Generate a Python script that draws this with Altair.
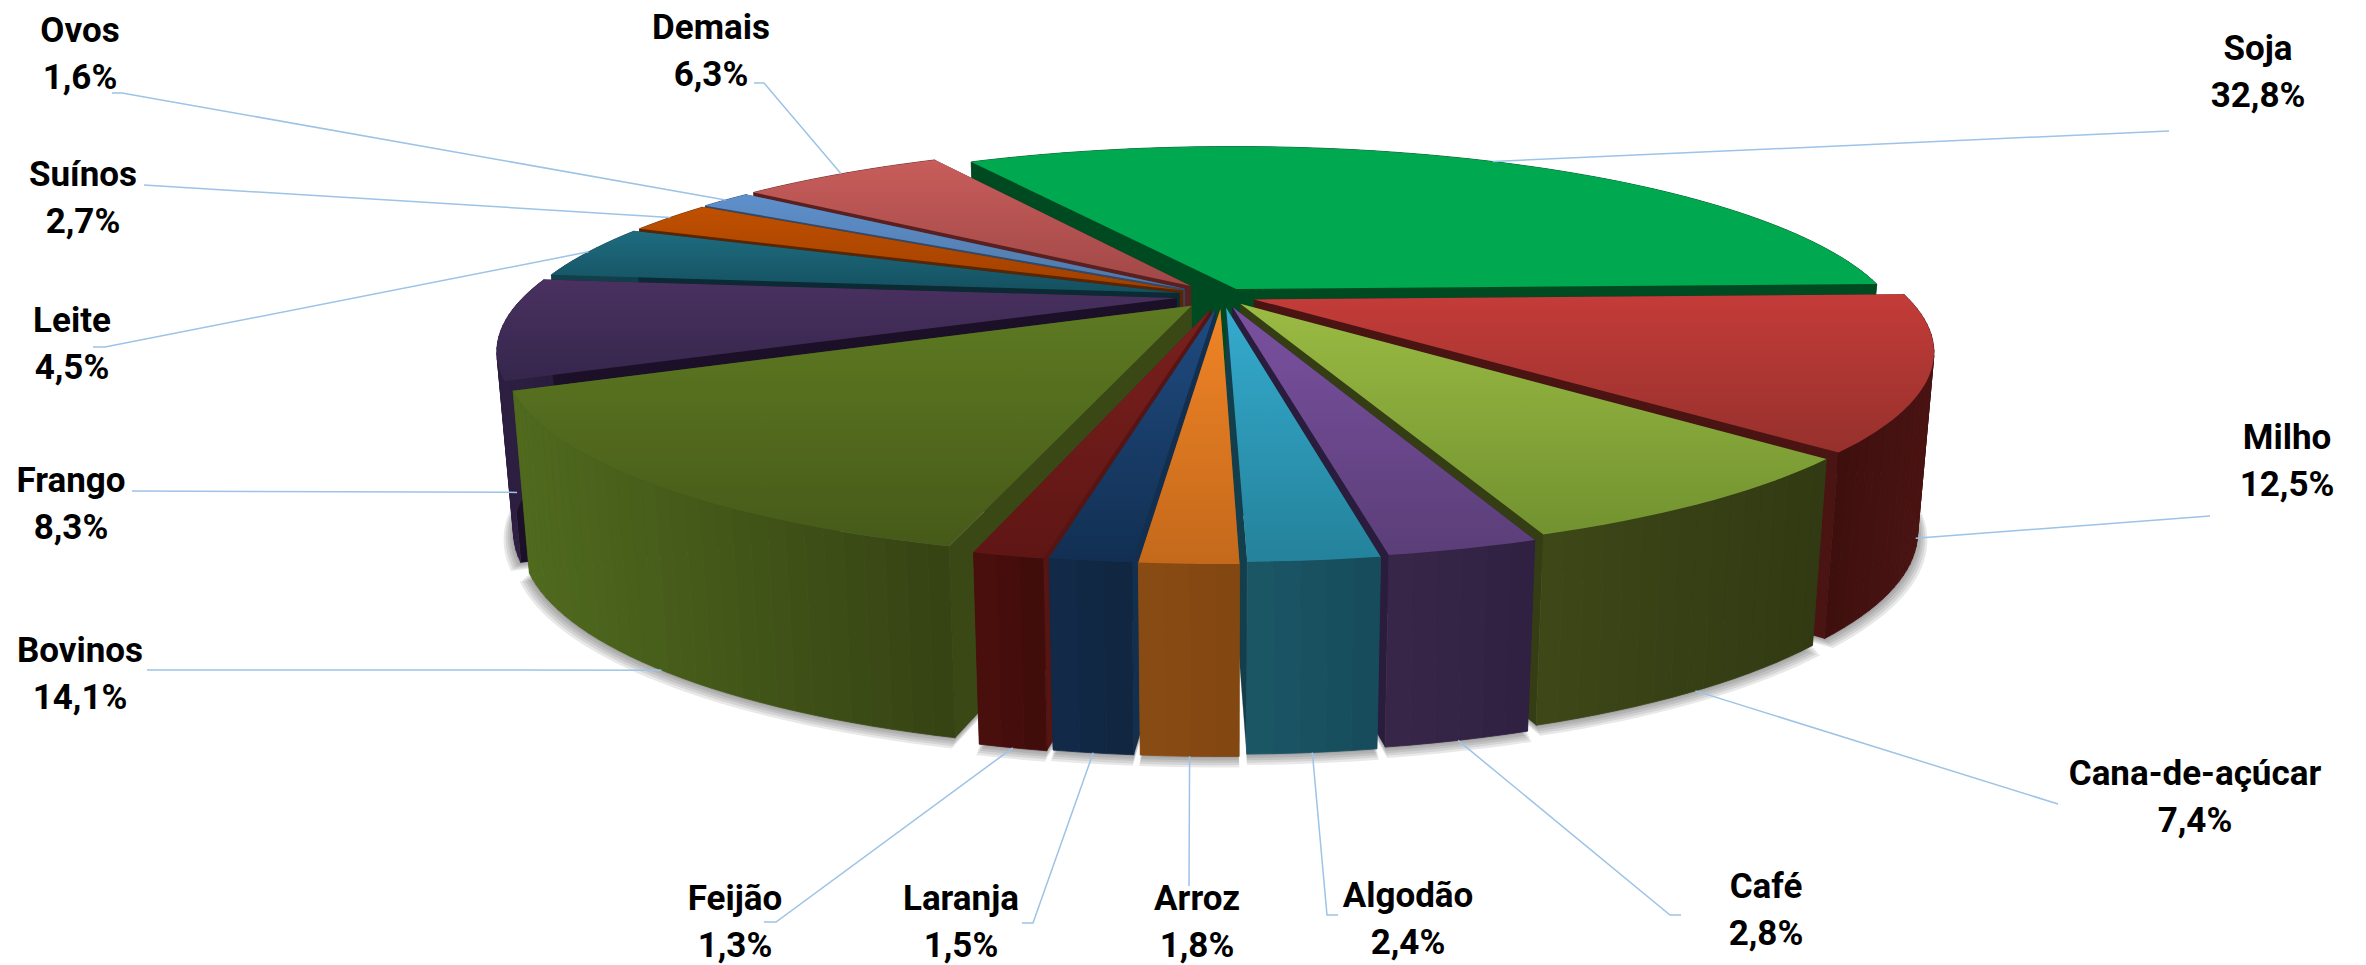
import math
import altair as alt
import pandas as pd

# ---- data (Soja first, clockwise)
names = ["Soja", "Milho", "Cana-de-açúcar", "Café", "Algodão", "Arroz", "Laranja",
         "Feijão", "Bovinos", "Frango", "Leite", "Suínos", "Ovos", "Demais"]
shares = [32.8, 12.5, 7.4, 2.8, 2.4, 1.8, 1.5, 1.3, 14.1, 8.3, 4.5, 2.7, 1.6, 6.3]
value_labels = ["32,8%", "12,5%", "7,4%", "2,8%", "2,4%", "1,8%", "1,5%",
                "1,3%", "14,1%", "8,3%", "4,5%", "2,7%", "1,6%", "6,3%"]

# ---- style: (top light, top dark, side wall left, side wall right, radial wall)
styles = {
    "Soja": ("#00A84F", "#00A84F", "#004A22", "#004A22", "#004A22"),
    "Milho": ("#C43C39", "#96302C", "#3E0F0E", "#4A1413", "#4A1413"),
    "Cana-de-açúcar": ("#9BBB44", "#71922F", "#3D4717", "#323A13", "#343D14"),
    "Café": ("#7A51A0", "#5B3E78", "#382649", "#2F2141", "#2A1C3C"),
    "Algodão": ("#35ABCE", "#24829B", "#1B5766", "#174B5B", "#133F4D"),
    "Arroz": ("#F08426", "#C4691B", "#8A4C14", "#824612", "#824612"),
    "Laranja": ("#1F4B80", "#122F52", "#122A48", "#10253F", "#132F50"),
    "Feijão": ("#7A201E", "#5E1614", "#4A0F0D", "#3F0C0B", "#561412"),
    "Bovinos": ("#5E7A22", "#465A19", "#506A1E", "#354213", "#394814"),
    "Frango": ("#4A3160", "#35264C", "#2E2042", "#2A1C3C", "#1B1028"),
    "Leite": ("#1E6C80", "#14505F", "#123F4C", "#123F4C", "#0B2A33"),
    "Suínos": ("#C05000", "#A04000", "#5A2500", "#5A2500", "#5A2500"),
    "Ovos": ("#5F90CC", "#4F78A8", "#2F4A6C", "#2F4A6C", "#2F4A6C"),
    "Demais": ("#C85D5B", "#A04847", "#5A2020", "#5A2020", "#5A2020"),
}
# how far each slice is pulled from the pie's centre
explode = dict(zip(names, [29, 34, 33, 40, 42, 46, 46, 48, 46, 46, 44, 44, 46, 48]))
paint_order = ["Soja", "Demais", "Ovos", "Suínos", "Leite", "Frango", "Milho", "Cana-de-açúcar",
               "Bovinos", "Café", "Algodão", "Feijão", "Laranja", "Arroz"]

# ---- label layout: centre of the two text lines, leader end(s) near the label,
# and how far down the rim (0 top, 1 bottom) the leader touches the slice
label_x = dict(zip(names, [2258, 2287, 2195, 1766, 1408, 1197, 961, 735, 80, 71, 72, 83, 80, 711]))
label_y = dict(zip(names, [49, 438, 774, 887, 896, 899, 899, 899, 651, 481, 321, 175, 31, 28]))
leader_ends = {
    "Soja": [(2169, 131)], "Milho": [(2210, 516)], "Cana-de-açúcar": [(2058, 804)],
    "Café": [(1670, 915), (1681, 915)], "Algodão": [(1327, 915), (1338, 915)],
    "Arroz": [(1189, 886)], "Laranja": [(1033, 923), (1022, 923)],
    "Feijão": [(776, 922), (764, 922)], "Bovinos": [(147, 670)], "Frango": [(132, 491)],
    "Leite": [(105, 347), (93, 347)], "Suínos": [(144, 185)], "Ovos": [(122, 93), (112, 93)],
    "Demais": [(764, 83), (754, 83)],
}
leader_level = dict(zip(names, [0, 0.92, 1, 1, 1, 1, 1, 1, 1, 0.92, 0, 0, 0, 0]))

# ---- projection of the tilted pie
CX, CY = 1222, 296
R, B, K = 652, 182, 0.255
START = -29.7
FLOOR_X, FLOOR_Y, FLOOR_DROP = 0.977, 1.058, 177


def project(u, v):
    s = 1 / (1 - K * v / R)
    return CX + u * s, CY + B / R * v * s


def floor(p):
    return CX + FLOOR_X * (p[0] - CX), CY + FLOOR_DROP + FLOOR_Y * (p[1] - CY)


def slice_geometry(name):
    i = names.index(name)
    a1 = START + 3.6 * sum(shares[:i])
    a2 = a1 + 3.6 * shares[i]
    mid = math.radians((a1 + a2) / 2)
    e = explode[name]
    ou, ov = e * math.sin(mid), -e * math.cos(mid)
    n = max(3, int((a2 - a1) / 1.5))
    arc = []
    for k in range(n + 1):
        a = math.radians(a1 + (a2 - a1) * k / n)
        arc.append(project(ou + R * math.sin(a), ov - R * math.cos(a)))
    apex = project(ou, ov)
    rim_mid = project(ou + R * math.sin(mid), ov - R * math.cos(mid))
    return apex, arc, rim_mid


def poly_frame(points):
    return pd.DataFrame({"x": [p[0] for p in points], "y": [p[1] for p in points],
                         "o": list(range(len(points)))})


X = alt.X("x:Q", scale=alt.Scale(domain=[8, 2358], nice=False, zero=False), axis=None)
Y = alt.Y("y:Q", scale=alt.Scale(domain=[965, 8], nice=False, zero=False), axis=None)


def polygon(points, fill):
    return alt.Chart(poly_frame(points + points[:1])).mark_line(
        fill=fill, strokeOpacity=0, strokeWidth=0, interpolate="linear"
    ).encode(x=X, y=Y, order=alt.Order("o:Q"))


def vgrad(c1, c2):
    return alt.Gradient(gradient="linear", x1=0, y1=0, x2=0, y2=1,
                        stops=[alt.GradientStop(color=c1, offset=0), alt.GradientStop(color=c2, offset=1)])


def lerp_hex(c1, c2, t):
    a = [int(c1[i:i + 2], 16) for i in (1, 3, 5)]
    b = [int(c2[i:i + 2], 16) for i in (1, 3, 5)]
    return "#" + "".join(f"{round(p + (q - p) * t):02X}" for p, q in zip(a, b))


def wall_facets(arc, arc_f, left, right):
    xs = [p[0] for p in arc]
    lo, hi = min(xs), max(xs)
    rows = []
    for j in range(len(arc) - 1):
        t = ((arc[j][0] + arc[j + 1][0]) / 2 - lo) / max(hi - lo, 1)
        col = lerp_hex(left, right, t)
        quad = [arc[j], arc[j + 1], arc_f[j + 1], arc_f[j], arc[j]]
        for o, p in enumerate(quad):
            rows.append({"x": p[0], "y": p[1], "o": o, "k": j, "c": col})
    return alt.Chart(pd.DataFrame(rows)).mark_line(strokeWidth=0.8, interpolate="linear").encode(
        x=X, y=Y, order=alt.Order("o:Q"), detail="k:N",
        fill=alt.Fill("c:N", scale=None), stroke=alt.Stroke("c:N", scale=None))


layers = []

# soft shadow under the floor of the pie
for grow, drop in [(1.014, 7), (1.011, 5.5), (1.008, 4), (1.005, 2.5), (1.002, 1)]:
    rows = []
    for name in names:
        apex, arc, _ = slice_geometry(name)
        pts = [floor(apex)] + [floor(p) for p in arc] + [floor(apex)]
        fx, fy = CX, CY + FLOOR_DROP
        for o, p in enumerate(pts):
            rows.append({"x": fx + grow * (p[0] - fx), "y": fy + grow * (p[1] - fy) + drop,
                         "o": o, "s": name})
    layers.append(alt.Chart(pd.DataFrame(rows)).mark_line(
        fill="#505050", fillOpacity=0.13, strokeOpacity=0, strokeWidth=0
    ).encode(x=X, y=Y, order=alt.Order("o:Q"), detail="s:N"))

# slices, painted back to front
for name in paint_order:
    top1, top2, wall1, wall2, radial = styles[name]
    apex, arc, _ = slice_geometry(name)
    apex_f = floor(apex)
    arc_f = [floor(p) for p in arc]
    layers.append(polygon([apex, arc[0], arc_f[0], apex_f], radial))
    layers.append(polygon([apex, arc[-1], arc_f[-1], apex_f], radial))
    layers.append(wall_facets(arc, arc_f, wall1, wall2))
    layers.append(polygon([apex] + arc, vgrad(top1, top2)))

# leaders
rows = []
for name in names:
    _, _, rim = slice_geometry(name)
    f = floor(rim)
    t = leader_level[name]
    start = (rim[0] + t * (f[0] - rim[0]), rim[1] + t * (f[1] - rim[1]))
    for o, p in enumerate([start] + leader_ends[name]):
        rows.append({"x": p[0], "y": p[1], "o": o, "s": name})
layers.append(alt.Chart(pd.DataFrame(rows)).mark_line(
    color="#9DC3E6", strokeWidth=1.5
).encode(x=X, y=Y, order=alt.Order("o:Q"), detail="s:N"))

# labels
text = pd.DataFrame({
    "x": [label_x[n] for n in names] * 2,
    "y": [label_y[n] for n in names] + [label_y[n] + 47 for n in names],
    "t": names + value_labels,
})
layers.append(alt.Chart(text).mark_text(
    font="Roboto", fontWeight="bold", fontSize=35, color="#000000", align="center", baseline="middle"
).encode(x=X, y=Y, text="t:N"))

chart = alt.layer(*layers).properties(
    width=2350, height=957, padding=0, background="#ffffff",
    autosize=alt.AutoSizeParams(type="none")
).configure_view(stroke=None)

chart.save("out.html", embed_options={"renderer": "svg", "actions": False})
